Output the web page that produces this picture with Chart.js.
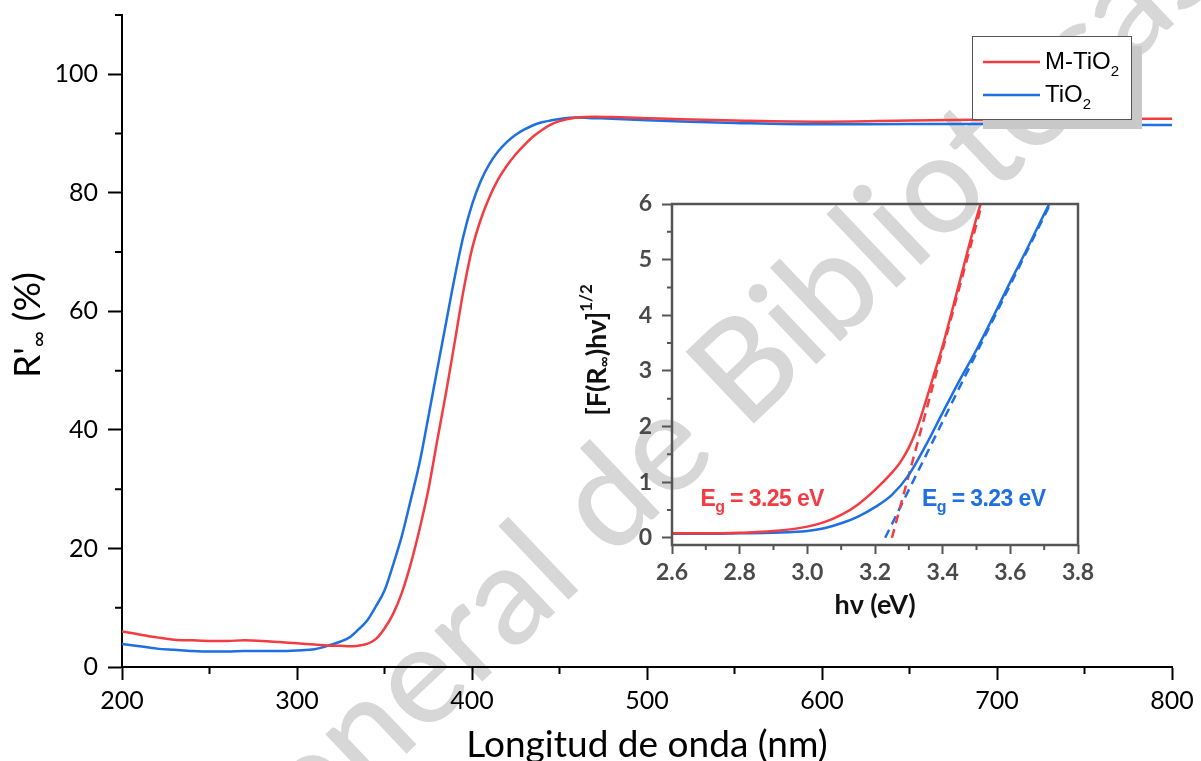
<!DOCTYPE html>
<html>
<head>
<meta charset="utf-8">
<script src="https://cdn.jsdelivr.net/npm/chart.js@4.4.1/dist/chart.umd.min.js"></script>
<style>
html, body { margin: 0; padding: 0; background: #fff; }
#wrap { position: relative; width: 1201px; height: 761px; overflow: hidden; }
#main-box { position: absolute; left: 0; top: 0; width: 1201px; height: 761px; }
#inset-box { position: absolute; left: 570px; top: 185px; width: 530px; height: 440px; }
</style>
</head>
<body>
<div id="wrap">
  <div id="main-box"><canvas id="main-chart"></canvas></div>
  <div id="inset-box"><canvas id="inset-chart"></canvas></div>
</div>
<script>
'use strict';

// reflectance spectra (main plot)
const wavelengths = [200, 210, 220, 230, 240, 250, 260, 270, 280, 290, 300, 310, 320, 325, 330, 335, 340, 345,
    350, 355, 360, 365, 370, 375, 380, 385, 390, 395, 400, 405, 410, 415, 420, 425, 430, 435, 440, 445,
    450, 460, 470, 480, 500, 520, 550, 600, 650, 700, 750, 800];
const reflMTiO2 = [6.0, 5.5, 5.0, 4.6, 4.5, 4.4, 4.4, 4.5, 4.4, 4.2, 4.0, 3.8, 3.6, 3.6, 3.5, 3.6, 3.9, 4.7,
    6.5, 9.0, 12.6, 17.4, 23.2, 29.8, 38.0, 46.0, 54.6, 63.3, 70.5, 75.5, 79.3, 82.3, 84.6, 86.5, 88.1, 89.5, 90.6, 91.5,
    92.1, 92.7, 92.85, 92.8, 92.6, 92.4, 92.2, 92.0, 92.2, 92.35, 92.45, 92.5];
const reflTiO2 = [3.9, 3.5, 3.1, 2.9, 2.7, 2.6, 2.6, 2.7, 2.7, 2.7, 2.8, 3.0, 3.8, 4.3, 5.0, 6.3, 7.8, 10.2,
    12.9, 17.3, 22.2, 28.2, 34.4, 42.1, 50.0, 57.8, 65.6, 72.6, 78.0, 82.0, 84.9, 87.0, 88.6, 89.8, 90.7, 91.4, 91.9, 92.2,
    92.45, 92.7, 92.6, 92.5, 92.25, 92.05, 91.8, 91.55, 91.6, 91.6, 91.5, 91.45];
const seriesNames = ['M-TiO2', 'TiO2'];
const mainXTicks = [200, 300, 400, 500, 600, 700, 800];
const mainXMinor = [250, 350, 450, 550, 650, 750];
const mainYTicks = [0, 20, 40, 60, 80, 100];
const mainYMinor = [10, 30, 50, 70, 90, 110];

// Kubelka-Munk plot (inset)
const hvMTiO2 = [2.6, 2.7, 2.8, 2.9, 3.0, 3.05, 3.1, 3.15, 3.2, 3.25, 3.275, 3.3, 3.325, 3.35, 3.375, 3.4, 3.45, 3.5, 3.512];
const kmMTiO2 = [0.08, 0.08, 0.09, 0.12, 0.2, 0.28, 0.41, 0.6, 0.86, 1.17, 1.36, 1.62, 1.98, 2.45, 2.95, 3.45, 4.6, 5.75, 6.0];
const hvTiO2 = [2.6, 2.7, 2.8, 2.9, 3.0, 3.05, 3.1, 3.15, 3.2, 3.25, 3.3, 3.35, 3.4, 3.45, 3.5, 3.55, 3.6, 3.65, 3.7, 3.715];
const kmTiO2 = [0.07, 0.07, 0.08, 0.09, 0.12, 0.17, 0.26, 0.38, 0.55, 0.77, 1.13, 1.66, 2.25, 2.83, 3.38, 3.98, 4.6, 5.2, 5.82, 6.0];
const fitHvMTiO2 = [3.25, 3.516];
const fitKmMTiO2 = [0, 6];
const fitHvTiO2 = [3.23, 3.718];
const fitKmTiO2 = [0, 6];
const bandGaps = [3.25, 3.23];
const insetXTicks = [2.6, 2.8, 3.0, 3.2, 3.4, 3.6, 3.8];
const insetXMinor = [2.7, 2.9, 3.1, 3.3, 3.5, 3.7];
const insetYTicks = [0, 1, 2, 3, 4, 5, 6];
const insetYMinor = [0.5, 1.5, 2.5, 3.5, 4.5, 5.5];

const RED = '#f33c41';
const BLUE = '#1d6fe2';

function toPoints(xs, ys) {
    return xs.map((x, i) => ({ x: x, y: ys[i] }));
}

function drawSub(ctx, base, sub, x, y, size, subSize, drop) {
    ctx.font = size;
    ctx.fillText(base, x, y);
    const w = ctx.measureText(base).width;
    ctx.font = subSize;
    ctx.fillText(sub, x + w, y + drop);
    return w + ctx.measureText(sub).width;
}

const minorTickPlugin = {
    id: 'minorTicks',
    afterDraw(chart, args, opts) {
        const ctx = chart.ctx;
        const sx = chart.scales.x;
        const sy = chart.scales.y;
        ctx.save();
        ctx.strokeStyle = opts.color;
        ctx.lineWidth = opts.width;
        ctx.beginPath();
        opts.x.forEach(v => {
            const px = sx.getPixelForValue(v);
            ctx.moveTo(px, sx.top);
            ctx.lineTo(px, sx.top + opts.length);
        });
        opts.y.forEach(v => {
            const py = sy.getPixelForValue(v);
            ctx.moveTo(sy.right, py);
            ctx.lineTo(sy.right - opts.length, py);
        });
        ctx.stroke();
        ctx.restore();
    }
};

const watermarkPlugin = {
    id: 'watermark',
    beforeDraw(chart) {
        const ctx = chart.ctx;
        ctx.save();
        ctx.fillStyle = '#d7d7d7';
        ctx.font = '500 138px Lato';
        ctx.translate(745, 432);
        ctx.rotate(-0.76);
        ctx.textAlign = 'left';
        ctx.fillText('Bibliotecas', 0, 0);
        ctx.textAlign = 'right';
        ctx.fillText('Dirección General de ', 0, 0);
        ctx.restore();
    }
};

const mainDecorPlugin = {
    id: 'mainDecor',
    afterDraw(chart) {
        const ctx = chart.ctx;
        ctx.save();
        ctx.fillStyle = '#000';
        // x title
        ctx.font = '37px Lato';
        ctx.textAlign = 'center';
        ctx.fillText('Longitud de onda (nm)', (chart.chartArea.left + chart.chartArea.right) / 2, 757);
        // y title with subscript
        ctx.translate(40, 325);
        ctx.rotate(-Math.PI / 2);
        ctx.textAlign = 'left';
        ctx.font = '37px Lato';
        const w1 = ctx.measureText("R'").width;
        ctx.font = '22px Lato';
        const w2 = ctx.measureText('\u221e').width;
        ctx.font = '37px Lato';
        const w3 = ctx.measureText(' (%)').width;
        let x0 = -(w1 + w2 + w3) / 2;
        ctx.fillText("R'", x0, 0);
        ctx.font = '22px Lato';
        ctx.fillText('\u221e', x0 + w1, 6);
        ctx.font = '37px Lato';
        ctx.fillText(' (%)', x0 + w1 + w2, 0);
        ctx.restore();

        // legend box with shadow
        ctx.save();
        ctx.fillStyle = '#c8c8c8';
        ctx.fillRect(983, 119, 159, 10);
        ctx.fillRect(1132, 46, 10, 83);
        ctx.fillStyle = '#fff';
        ctx.fillRect(972, 36, 160, 83);
        ctx.strokeStyle = '#555';
        ctx.lineWidth = 1;
        ctx.strokeRect(972.5, 36.5, 159, 83);
        const rows = [62, 95];
        chart.data.datasets.forEach((ds, i) => {
            ctx.strokeStyle = ds.borderColor;
            ctx.lineWidth = 2.5;
            ctx.beginPath();
            ctx.moveTo(983, rows[i]);
            ctx.lineTo(1040, rows[i]);
            ctx.stroke();
            const m = ds.label.match(/^(.*?)(\d)$/);
            ctx.fillStyle = '#000';
            drawSub(ctx, m[1], m[2], 1045, rows[i] + 7, '24px "Liberation Sans"', '15px "Liberation Sans"', 7);
        });
        ctx.restore();
    }
};

new Chart(document.getElementById('main-chart'), {
    type: 'line',
    data: {
        datasets: [
            {
                label: seriesNames[0],
                data: toPoints(wavelengths, reflMTiO2),
                borderColor: RED,
                borderWidth: 2.5,
                pointRadius: 0,
                cubicInterpolationMode: 'monotone',
            },
            {
                label: seriesNames[1],
                data: toPoints(wavelengths, reflTiO2),
                borderColor: BLUE,
                borderWidth: 2.5,
                pointRadius: 0,
                cubicInterpolationMode: 'monotone',
            },
        ]
    },
    options: {
        responsive: true,
        maintainAspectRatio: false,
        animation: false,
        layout: { padding: { top: 15, right: 29, left: 0, bottom: 0 } },
        plugins: {
            legend: { display: false },
            tooltip: { enabled: false },
            minorTicks: { x: mainXMinor, y: mainYMinor, length: 7, color: '#000', width: 2 },
        },
        scales: {
            x: {
                type: 'linear',
                min: 200,
                max: 800,
                afterBuildTicks: s => { s.ticks = mainXTicks.map(v => ({ value: v })); },
                afterFit: s => { s.height = 94; s.paddingLeft = 0; s.paddingRight = 0; },
                grid: { drawOnChartArea: false, tickLength: 13, tickColor: '#000', tickWidth: 2 },
                border: { color: '#000', width: 2 },
                ticks: { color: '#000', font: { family: 'Lato', size: 25 }, padding: 6, maxRotation: 0, autoSkip: false },
            },
            y: {
                type: 'linear',
                min: 0,
                max: 110,
                afterBuildTicks: s => { s.ticks = mainYTicks.map(v => ({ value: v })); },
                afterFit: s => { s.width = 122; s.paddingTop = 0; s.paddingBottom = 0; },
                grid: { drawOnChartArea: false, tickLength: 14, tickColor: '#000', tickWidth: 2 },
                border: { color: '#000', width: 2 },
                ticks: { color: '#000', font: { family: 'Lato', size: 25 }, padding: 10, autoSkip: false },
            },
        },
    },
    plugins: [watermarkPlugin, minorTickPlugin, mainDecorPlugin],
});

const insetDecorPlugin = {
    id: 'insetDecor',
    afterDraw(chart) {
        const ctx = chart.ctx;
        const area = chart.chartArea;
        const sx = chart.scales.x;
        const sy = chart.scales.y;
        ctx.save();
        ctx.strokeStyle = '#555';
        ctx.lineWidth = 2.5;
        ctx.strokeRect(area.left, area.top, area.right - area.left, area.bottom - area.top);

        // band gap labels
        const spots = [[2.684, 0.57], [3.339, 0.57]];
        ctx.letterSpacing = '-0.6px';
        chart.data.datasets.slice(0, 2).forEach((ds, i) => {
            const px = sx.getPixelForValue(spots[i][0]);
            const py = sy.getPixelForValue(spots[i][1]);
            ctx.fillStyle = ds.borderColor;
            const w = drawSub(ctx, 'E', 'g', px, py, 'bold 23px "Liberation Sans"', 'bold 16px "Liberation Sans"', 6);
            ctx.font = 'bold 23px "Liberation Sans"';
            ctx.fillText(' = ' + bandGaps[i].toFixed(2) + ' eV', px + w, py);
        });
        ctx.letterSpacing = '0px';

        // axis titles
        ctx.fillStyle = '#111';
        ctx.font = 'bold 27px Lato';
        ctx.textAlign = 'center';
        ctx.fillText('h\u03bd (eV)', (area.left + area.right) / 2, 429);
        ctx.textAlign = 'left';
        ctx.translate(36, 165);
        ctx.rotate(-Math.PI / 2);
        const parts = [
            ['[F(R', 'bold 27px Lato', 0],
            ['\u221e', 'bold 15px Lato', 3],
            [')h\u03bd]', 'bold 27px Lato', 0],
            ['1/2', 'bold 17px Lato', -14],
        ];
        let total = 0;
        parts.forEach(p => { ctx.font = p[1]; total += ctx.measureText(p[0]).width; });
        let cx = -total / 2;
        parts.forEach(p => {
            ctx.font = p[1];
            ctx.fillText(p[0], cx, p[2]);
            cx += ctx.measureText(p[0]).width;
        });
        ctx.restore();
    }
};

new Chart(document.getElementById('inset-chart'), {
    type: 'line',
    data: {
        datasets: [
            {
                label: seriesNames[0],
                data: toPoints(hvMTiO2, kmMTiO2),
                borderColor: RED,
                borderWidth: 2.5,
                pointRadius: 0,
                cubicInterpolationMode: 'monotone',
            },
            {
                label: seriesNames[1],
                data: toPoints(hvTiO2, kmTiO2),
                borderColor: BLUE,
                borderWidth: 2.5,
                pointRadius: 0,
                cubicInterpolationMode: 'monotone',
            },
            {
                label: 'fit ' + seriesNames[0],
                data: toPoints(fitHvMTiO2, fitKmMTiO2),
                borderColor: RED,
                borderWidth: 2.5,
                borderDash: [9, 6],
                pointRadius: 0,
            },
            {
                label: 'fit ' + seriesNames[1],
                data: toPoints(fitHvTiO2, fitKmTiO2),
                borderColor: BLUE,
                borderWidth: 2.5,
                borderDash: [9, 6],
                pointRadius: 0,
            },
        ]
    },
    options: {
        responsive: true,
        maintainAspectRatio: false,
        animation: false,
        layout: { padding: { top: 19, right: 22, left: 0, bottom: 0 } },
        plugins: {
            legend: { display: false },
            tooltip: { enabled: false },
            minorTicks: { x: insetXMinor, y: insetYMinor, length: 5, color: '#555', width: 2 },
        },
        scales: {
            x: {
                type: 'linear',
                min: 2.6,
                max: 3.8,
                afterBuildTicks: s => { s.ticks = insetXTicks.map(v => ({ value: v })); },
                afterFit: s => { s.height = 80; s.paddingLeft = 0; s.paddingRight = 0; },
                grid: { drawOnChartArea: false, tickLength: 9, tickColor: '#555', tickWidth: 2 },
                border: { display: false },
                ticks: {
                    color: '#4a4a4a', font: { family: 'Lato', size: 23, weight: 'bold' }, padding: 5,
                    maxRotation: 0, autoSkip: false, callback: v => v.toFixed(1),
                },
            },
            y: {
                type: 'linear',
                min: -0.13,
                max: 6,
                afterBuildTicks: s => { s.ticks = insetYTicks.map(v => ({ value: v })); },
                afterFit: s => { s.width = 102; s.paddingTop = 0; s.paddingBottom = 0; },
                grid: { drawOnChartArea: false, tickLength: 10, tickColor: '#555', tickWidth: 2 },
                border: { display: false },
                ticks: { color: '#4a4a4a', font: { family: 'Lato', size: 23, weight: 'bold' }, padding: 10, autoSkip: false },
            },
        },
    },
    plugins: [minorTickPlugin, insetDecorPlugin],
});
</script>
</body>
</html>
